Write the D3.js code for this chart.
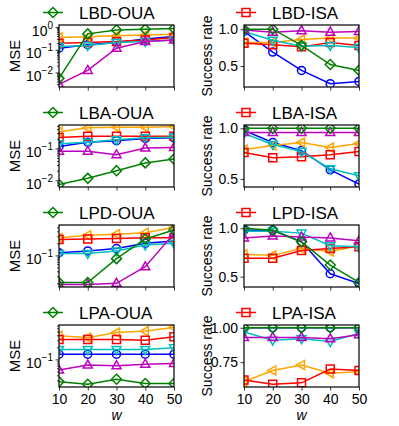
<!DOCTYPE html>
<html>
<head>
<meta charset="utf-8">
<script src="https://cdn.jsdelivr.net/npm/d3@7"></script>
<style>
  body { margin: 0; background: #fff; }
  svg { font-family: "Liberation Sans", Arial, sans-serif; }
</style>
</head>
<body>
<svg id="chart" width="399" height="426"></svg>
<script>
// x values (window size w)
var wValues = [10, 20, 30, 40, 50];

var seriesKeys = ['blue', 'orange', 'red', 'cyan', 'magenta', 'green'];

// MSE panels (log scale)
var lbdOua = {
    green:   [0.0055, 0.50, 0.74, 0.79, 0.87],
    orange:  [0.35, 0.37, 0.41, 0.45, 0.48],
    red:     [0.195, 0.21, 0.23, 0.27, 0.35],
    blue:    [0.117, 0.166, 0.21, 0.30, 0.38],
    cyan:    [0.138, 0.155, 0.21, 0.23, 0.27],
    magenta: [0.003, 0.0123, 0.117, 0.23, 0.27]
};
var lbaOua = {
    green:   [0.0074, 0.0115, 0.020, 0.035, 0.046],
    orange:  [0.33, 0.44, 0.46, 0.46, 0.48],
    red:     [0.219, 0.24, 0.24, 0.24, 0.24],
    blue:    [0.115, 0.155, 0.174, 0.204, 0.214],
    cyan:    [0.138, 0.155, 0.186, 0.214, 0.224],
    magenta: [0.081, 0.081, 0.063, 0.102, 0.107]
};
var lpdOua = {
    green:   [0.021, 0.021, 0.083, 0.257, 0.43],
    orange:  [0.275, 0.32, 0.34, 0.37, 0.50],
    red:     [0.25, 0.257, 0.263, 0.275, 0.275],
    blue:    [0.117, 0.129, 0.148, 0.20, 0.23],
    cyan:    [0.112, 0.112, 0.129, 0.182, 0.20],
    magenta: [0.0186, 0.0186, 0.020, 0.052, 0.355]
};
var lpaOua = {
    green:   [0.0275, 0.024, 0.032, 0.025, 0.025],
    orange:  [0.39, 0.35, 0.47, 0.51, 0.63],
    red:     [0.316, 0.316, 0.316, 0.30, 0.37],
    blue:    [0.135, 0.135, 0.135, 0.135, 0.135],
    cyan:    [0.178, 0.178, 0.178, 0.178, 0.195],
    magenta: [0.054, 0.072, 0.069, 0.076, 0.079]
};

// Success rate panels (linear)
var lbdIsa = {
    green:   [1.0, 1.0, 0.78, 0.52, 0.44],
    orange:  [0.82, 0.82, 0.86, 0.88, 0.88],
    red:     [0.81, 0.79, 0.76, 0.82, 0.78],
    blue:    [0.97, 0.69, 0.44, 0.26, 0.29],
    cyan:    [0.97, 0.85, 0.77, 0.78, 0.75],
    magenta: [0.99, 0.96, 0.98, 0.96, 0.97]
};
var lbaIsa = {
    green:   [1.0, 1.0, 1.0, 1.0, 1.0],
    orange:  [0.79, 0.83, 0.86, 0.81, 0.85],
    red:     [0.76, 0.71, 0.72, 0.74, 0.77],
    blue:    [0.98, 0.86, 0.78, 0.59, 0.45],
    cyan:    [0.95, 0.84, 0.77, 0.60, 0.53],
    magenta: [0.96, 0.96, 0.96, 0.96, 0.96]
};
var lpdIsa = {
    green:   [1.0, 0.98, 0.86, 0.62, 0.44],
    orange:  [0.73, 0.72, 0.79, 0.76, 0.82],
    red:     [0.69, 0.69, 0.77, 0.79, 0.81],
    blue:    [0.98, 0.98, 0.86, 0.53, 0.43],
    cyan:    [0.97, 0.97, 0.95, 0.82, 0.81],
    magenta: [0.90, 0.92, 0.91, 0.90, 0.87]
};
var lpaIsa = {
    green:   [1.0, 1.0, 1.0, 1.0, 1.0],
    orange:  [0.61, 0.69, 0.73, 0.67, 0.68],
    red:     [0.62, 0.59, 0.60, 0.70, 0.69],
    blue:    [1.0, 1.0, 1.0, 1.0, 1.0],
    cyan:    [0.97, 0.91, 0.92, 0.90, 0.96],
    magenta: [0.93, 0.93, 0.93, 0.92, 0.95]
};

var panelTitles = ['LBD-OUA', 'LBD-ISA', 'LBA-OUA', 'LBA-ISA', 'LPD-OUA', 'LPD-ISA', 'LPA-OUA', 'LPA-ISA'];
var panelData = [lbdOua, lbdIsa, lbaOua, lbaIsa, lpdOua, lpdIsa, lpaOua, lpaIsa];
// y-axis limits (log10 exponents for MSE, raw for success rate)
var yLimits = [[-2.64, 0.09], [0.215, 1.057], [-2.21, -0.27], [0.42, 1.033],
               [-1.79, -0.24], [0.393, 1.034], [-1.69, -0.14], [0.57, 1.02]];
var yTicks = [[-2, -1, 0], [0.5, 1.0], [-2, -1], [0.5, 1.0],
              [-1], [0.5, 1.0], [-1], [0.75, 1.0]];
var xTicks = [10, 20, 30, 40, 50];

var colors = {
    green: '#008000', orange: '#ffa500', red: '#ff0000',
    blue: '#0000ff', cyan: '#00bfbf', magenta: '#bf00bf'
};
var markers = {
    green: 'diamond', orange: 'left', red: 'square',
    blue: 'circle', cyan: 'down', magenta: 'up'
};

function markerPath(type){
    switch (type){
        case 'diamond': return 'M0,-5L5,0L0,5L-5,0Z';
        case 'square': return 'M-4,-4L4,-4L4,4L-4,4Z';
        case 'circle': return 'M4,0A4,4 0 1,1 -4,0A4,4 0 1,1 4,0Z';
        case 'up': return 'M0,-5L4.5,3L-4.5,3Z';
        case 'down': return 'M0,5L4.5,-3L-4.5,-3Z';
        case 'left': return 'M-5,0L3,-4.5L3,4.5Z';
    }
    return '';
}

var svg = d3.select('#chart');
var colLeft = [59, 244];
var plotW = 115;
var plotH = 62;
var rowTop = [25, 125, 225, 325];

panelData.forEach(function(data, i){
    var col = i % 2, row = Math.floor(i / 2);
    var isLog = col == 0;
    var left = colLeft[col], top = rowTop[row];
    var g = svg.append('g').attr('transform', 'translate(' + left + ',' + top + ')');

    var x = d3.scaleLinear().domain([10, 50]).range([0, plotW]);
    var y;
    if (isLog){
        y = d3.scaleLog().domain([Math.pow(10, yLimits[i][0]), Math.pow(10, yLimits[i][1])]).range([plotH, 0]);
    }
    else{
        y = d3.scaleLinear().domain(yLimits[i]).range([plotH, 0]);
    }

    var clipId = 'clip' + i;
    g.append('clipPath').attr('id', clipId)
        .append('rect').attr('width', plotW).attr('height', plotH);

    // x axis ticks
    var xAxis = d3.axisBottom(x).tickValues(xTicks).tickSize(3.5).tickSizeOuter(0)
        .tickFormat(row == 3 ? d3.format('d') : function(){ return ''; });
    var gx = g.append('g').attr('transform', 'translate(0,' + plotH + ')').call(xAxis);
    gx.select('.domain').remove();
    gx.selectAll('text').attr('font-size', 14).attr('fill', '#000').attr('dy', '0.72em');

    // y axis ticks
    var gy = g.append('g');
    if (isLog){
        var minors = [];
        for (var k = Math.floor(yLimits[i][0]); k <= Math.ceil(yLimits[i][1]); k++){
            for (var m = 2; m <= 9; m++){
                var v = m * Math.pow(10, k);
                if (Math.log10(v) >= yLimits[i][0] && Math.log10(v) <= yLimits[i][1]) minors.push(v);
            }
        }
        gy.call(d3.axisLeft(y).tickValues(minors).tickSize(2).tickSizeOuter(0).tickFormat(function(){ return ''; }));
        var gyMaj = g.append('g').call(d3.axisLeft(y)
            .tickValues(yTicks[i].map(function(e){ return Math.pow(10, e); }))
            .tickSize(3.5).tickSizeOuter(0).tickFormat(function(){ return ''; }));
        gyMaj.select('.domain').remove();
        gyMaj.selectAll('.tick').each(function(d){
            var e = Math.round(Math.log10(d));
            var t = d3.select(this).append('text')
                .attr('x', -6).attr('y', 8).attr('text-anchor', 'end')
                .attr('fill', '#000').attr('font-size', 14);
            t.append('tspan').text('10');
            t.append('tspan').attr('dy', -7).attr('font-size', 10)
                .text(e < 0 ? '\u2212' + Math.abs(e) : e);
        });
    }
    else{
        var fmt = i == 7 ? d3.format('.2f') : d3.format('.1f');
        gy.call(d3.axisLeft(y).tickValues(yTicks[i]).tickSize(3.5).tickSizeOuter(0).tickFormat(fmt));
        gy.selectAll('text').attr('font-size', 14).attr('fill', '#000').attr('x', -6);
    }
    gy.select('.domain').remove();
    g.selectAll('.tick line').attr('stroke', '#000').attr('stroke-width', 0.8);

    // series
    var plot = g.append('g').attr('clip-path', 'url(#' + clipId + ')');
    var line = d3.line()
        .x(function(d, j){ return x(wValues[j]); })
        .y(function(d){ return y(d); });
    seriesKeys.forEach(function(key){
        var vals = data[key];
        plot.append('path').datum(vals)
            .attr('d', line)
            .attr('fill', 'none')
            .attr('stroke', colors[key])
            .attr('stroke-width', 1.5);
        plot.selectAll('.mk-' + key).data(vals).enter()
            .append('path')
            .attr('class', 'mk-' + key)
            .attr('transform', function(d, j){ return 'translate(' + x(wValues[j]) + ',' + y(d) + ')'; })
            .attr('d', markerPath(markers[key]))
            .attr('fill', 'none')
            .attr('stroke', colors[key])
            .attr('stroke-width', 1.5);
    });

    // frame
    g.append('rect').attr('width', plotW).attr('height', plotH)
        .attr('fill', 'none').attr('stroke', '#000').attr('stroke-width', 1.2);

    // legend (one entry)
    var legKey = isLog ? 'green' : 'red';
    var lx = isLog ? 43 : 236;
    var ly = top - 12.5;
    svg.append('line').attr('x1', lx).attr('x2', lx + 20).attr('y1', ly).attr('y2', ly)
        .attr('stroke', colors[legKey]).attr('stroke-width', 1.5);
    svg.append('path').attr('transform', 'translate(' + (lx + 10) + ',' + ly + ')')
        .attr('d', markerPath(markers[legKey]))
        .attr('fill', 'none').attr('stroke', colors[legKey]).attr('stroke-width', 1.5);
    svg.append('text').attr('x', lx + 36).attr('y', ly + 6)
        .attr('font-size', 17).text(panelTitles[i]);

    // y label
    var yl = isLog ? 'MSE' : 'Success rate';
    var ylx = isLog ? 15 : 207;
    svg.append('text')
        .attr('transform', 'translate(' + (ylx + 5) + ',' + (top + plotH / 2) + ') rotate(-90)')
        .attr('text-anchor', 'middle').attr('font-size', isLog ? 15 : 14)
        .text(yl);

    if (row == 3){
        svg.append('text').attr('x', left + plotW / 2).attr('y', 420)
            .attr('text-anchor', 'middle').attr('font-size', 14)
            .attr('font-style', 'italic').text('w');
    }
});
</script>
</body>
</html>
